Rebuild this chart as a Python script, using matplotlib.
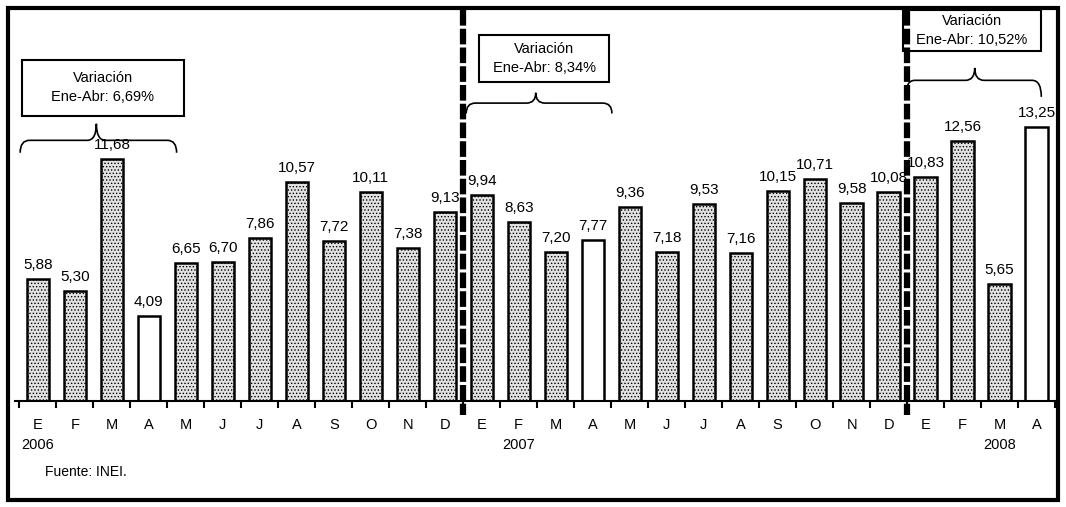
import numpy as np
import matplotlib.pyplot as plt
from matplotlib.path import Path
from matplotlib.patches import PathPatch, Rectangle

plt.rcParams['font.family'] = ['Liberation Sans', 'DejaVu Sans']
plt.rcParams['hatch.color'] = '#a8a8a8'
plt.rcParams['hatch.linewidth'] = 0.6

# 1. Datos
meses = ['E', 'F', 'M', 'A', 'M', 'J', 'J', 'A', 'S', 'O', 'N', 'D',
         'E', 'F', 'M', 'A', 'M', 'J', 'J', 'A', 'S', 'O', 'N', 'D',
         'E', 'F', 'M', 'A']
valores = [5.88, 5.30, 11.68, 4.09, 6.65, 6.70, 7.86, 10.57, 7.72, 10.11, 7.38, 9.13,
           9.94, 8.63, 7.20, 7.77, 9.36, 7.18, 9.53, 7.16, 10.15, 10.71, 9.58, 10.08,
           10.83, 12.56, 5.65, 13.25]
etiquetas = ['5,88', '5,30', '11,68', '4,09', '6,65', '6,70', '7,86', '10,57', '7,72', '10,11', '7,38', '9,13',
             '9,94', '8,63', '7,20', '7,77', '9,36', '7,18', '9,53', '7,16', '10,15', '10,71', '9,58', '10,08',
             '10,83', '12,56', '5,65', '13,25']
blancos = [3, 15, 27]                     # barras de abril (sin relleno)
anios = ['2006', '2007', '2008']
pos_anios = [0, 13, 26]
variaciones = ['Variación\nEne-Abr: 6,69%', 'Variación\nEne-Abr: 8,34%', 'Variación\nEne-Abr: 10,52%']

# 2. Figura
fig = plt.figure(figsize=(10.66, 5.07), dpi=100)
ax = fig.add_axes([15 / 1066, 106 / 507, 1040 / 1066, 391 / 507])
x = np.arange(len(valores))

for i, (v, lab) in enumerate(zip(valores, etiquetas)):
    if i in blancos:
        ax.bar(i, v, width=0.6, color='white', edgecolor='black', linewidth=1.8)
    else:
        ax.bar(i, v, width=0.6, color='#e2e2e2', edgecolor='black', linewidth=1.8, hatch='.....')
    ax.text(i, v + 0.35, lab, ha='center', va='bottom', fontsize=11)

ax.set_xlim(-0.62, 27.27)
ax.set_ylim(0, 18.9)
for s in ['top', 'right', 'left']:
    ax.spines[s].set_visible(False)
ax.spines['bottom'].set_linewidth(1.5)
ax.set_yticks([])
ax.set_xticks(x)
ax.set_xticklabels(meses, fontsize=10.5)
ax.tick_params(axis='x', which='major', length=0, pad=12)
ax.set_xticks(np.arange(-0.5, 28, 1), minor=True)
ax.tick_params(axis='x', which='minor', length=5, width=1.5)

for p, a in zip(pos_anios, anios):
    ax.text(p, -1.8, a, ha='center', va='top', fontsize=10.5)
ax.text(0.2, -3.1, 'Fuente: INEI.', ha='left', va='top', fontsize=10)

# lineas divisorias
for xs in [11.5, 23.5]:
    ax.plot([xs, xs], [18.9, -0.7], color='black', lw=4.5, ls=(0, (2.5, 0.5)), clip_on=False)

# llaves y cuadros
def llave(x0, x1, xm, y, yext, ypico):
    r = 0.25
    verts = [(x0, yext), (x0, y), (x0 + r, y), (xm - r, y), (xm, y), (xm, ypico),
             (xm, y), (xm + r, y), (x1 - r, y), (x1, y), (x1, yext)]
    codes = [Path.MOVETO, Path.CURVE3, Path.CURVE3, Path.LINETO, Path.CURVE3, Path.CURVE3,
             Path.CURVE3, Path.CURVE3, Path.LINETO, Path.CURVE3, Path.CURVE3]
    ax.add_patch(PathPatch(Path(verts, codes), fill=False, lw=1.2, color='black', clip_on=False))

llave(-0.48, 3.75, 1.58, 12.6, 12.0, 13.4)
llave(11.58, 15.52, 13.46, 14.4, 13.9, 14.9)
llave(23.46, 27.13, 25.33, 15.5, 14.7, 16.1)

cajas = [(-0.43, 13.8, 4.37, 2.7), (11.93, 15.4, 3.51, 2.3), (23.38, 16.9, 3.75, 2.0)]
for (bx, by, bw, bh), txt in zip(cajas, variaciones):
    ax.add_patch(Rectangle((bx, by), bw, bh, fill=False, lw=1.5, ec='black', clip_on=False))
    ax.text(bx + bw / 2, by + bh / 2, txt, ha='center', va='center', fontsize=10.5, linespacing=1.5)

# marco exterior
fig.patches.append(Rectangle((8 / 1066, 7 / 507), 1050 / 1066, 492 / 507, transform=fig.transFigure,
                             fill=False, lw=3, ec='black'))

fig.savefig('out.png', dpi=100)
